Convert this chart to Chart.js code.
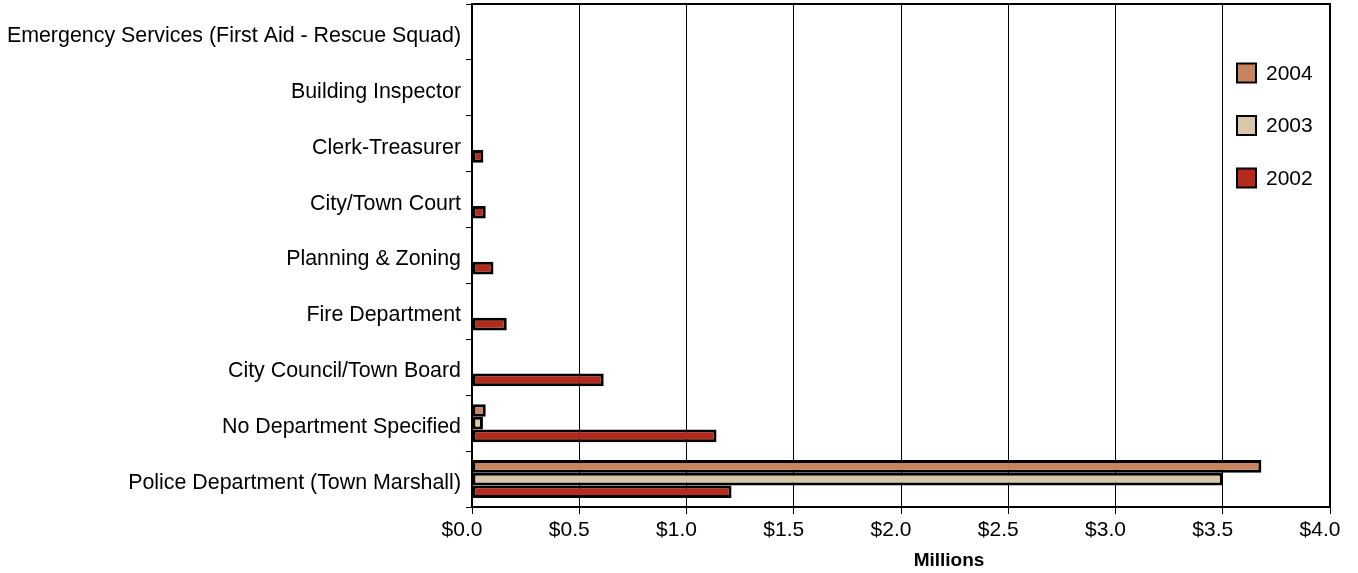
<!DOCTYPE html>
<html>
<head>
<meta charset="utf-8">
<script src="https://cdn.jsdelivr.net/npm/chart.js@4/dist/chart.umd.min.js"></script>
<style>
  html, body { margin: 0; padding: 0; background: #fff; }
  #wrap { width: 1358px; height: 573px; }
</style>
</head>
<body>
<div id="wrap"><canvas id="chart"></canvas></div>
<script>
// categories, top to bottom
const departments = [
  "Emergency Services (First Aid - Rescue Squad)",
  "Building Inspector",
  "Clerk-Treasurer",
  "City/Town Court",
  "Planning & Zoning",
  "Fire Department",
  "City Council/Town Board",
  "No Department Specified",
  "Police Department (Town Marshall)"
];

// spending in millions of dollars
const spend2004 = [null, null, null, null, null, null, null, 0.064, 3.68];
const spend2003 = [null, null, null, null, null, null, null, 0.051, 3.5];
const spend2002 = [null, null, 0.053, 0.064, 0.10, 0.162, 0.614, 1.14, 1.21];

const seriesNames = ["2004", "2003", "2002"];
const seriesColors = ["#C8845E", "#D8C7A8", "#B52A1A"];

const FONT = "'Liberation Sans', Arial, sans-serif";

// border round the plot + the legend inside it + axis title
const framePlugin = {
  id: "frame",
  afterDraw(chart) {
    const ctx = chart.ctx;
    const a = chart.chartArea;
    ctx.save();
    ctx.strokeStyle = "#000";
    ctx.lineWidth = 2;
    ctx.strokeRect(a.left, a.top, a.right - a.left, a.bottom - a.top);

    // legend
    ctx.font = "21px " + FONT;
    ctx.textBaseline = "middle";
    ctx.textAlign = "left";
    chart.data.datasets.forEach((ds, i) => {
      const y = 73 + i * 52.5;
      ctx.fillStyle = ds.backgroundColor;
      ctx.fillRect(1237, y - 9.5, 19, 19);
      ctx.lineWidth = 2;
      ctx.strokeStyle = "#000";
      ctx.strokeRect(1237, y - 9.5, 19, 19);
      ctx.fillStyle = "#000";
      ctx.fillText(ds.label, 1266, y + 1);
    });

    // x axis title
    ctx.font = "bold 19px " + FONT;
    ctx.textAlign = "center";
    ctx.fillText("Millions", 949, 561);
    ctx.restore();
  }
};

new Chart(document.getElementById("chart"), {
  type: "bar",
  data: {
    labels: departments,
    datasets: [
      { label: seriesNames[0], data: spend2004, backgroundColor: seriesColors[0] },
      { label: seriesNames[1], data: spend2003, backgroundColor: seriesColors[1] },
      { label: seriesNames[2], data: spend2002, backgroundColor: seriesColors[2] }
    ].map((d) => ({
      ...d,
      borderColor: "#000",
      borderWidth: 3,
      borderSkipped: false,
      categoryPercentage: 0.68,
      barPercentage: 1.0
    }))
  },
  options: {
    indexAxis: "y",
    responsive: true,
    maintainAspectRatio: false,
    animation: false,
    layout: { padding: { top: 4, right: 28, left: 0, bottom: 0 } },
    plugins: {
      legend: { display: false },
      tooltip: { enabled: false }
    },
    scales: {
      x: {
        min: 0,
        max: 4,
        ticks: {
          stepSize: 0.5,
          color: "#000",
          font: { family: FONT, size: 21 },
          padding: 4,
          maxRotation: 0,
          labelOffset: -10,
          callback: (v) => "$" + Number(v).toFixed(1)
        },
        grid: { color: "#000", lineWidth: 1, tickLength: 7, drawTicks: true },
        border: { color: "#000", width: 2 },
        afterFit(scale) {
          scale.height = 66;
          scale.paddingLeft = 0;
          scale.paddingRight = 0;
        }
      },
      y: {
        ticks: {
          color: "#000",
          font: { family: FONT, size: 21.4 },
          padding: 5,
          labelOffset: 4
        },
        grid: {
          offset: true,
          drawOnChartArea: false,
          color: "#000",
          tickLength: 6
        },
        border: { color: "#000", width: 2 },
        afterFit(scale) {
          scale.width = 472;
          scale.paddingTop = 0;
          scale.paddingBottom = 0;
        }
      }
    }
  },
  plugins: [framePlugin]
});
</script>
</body>
</html>
